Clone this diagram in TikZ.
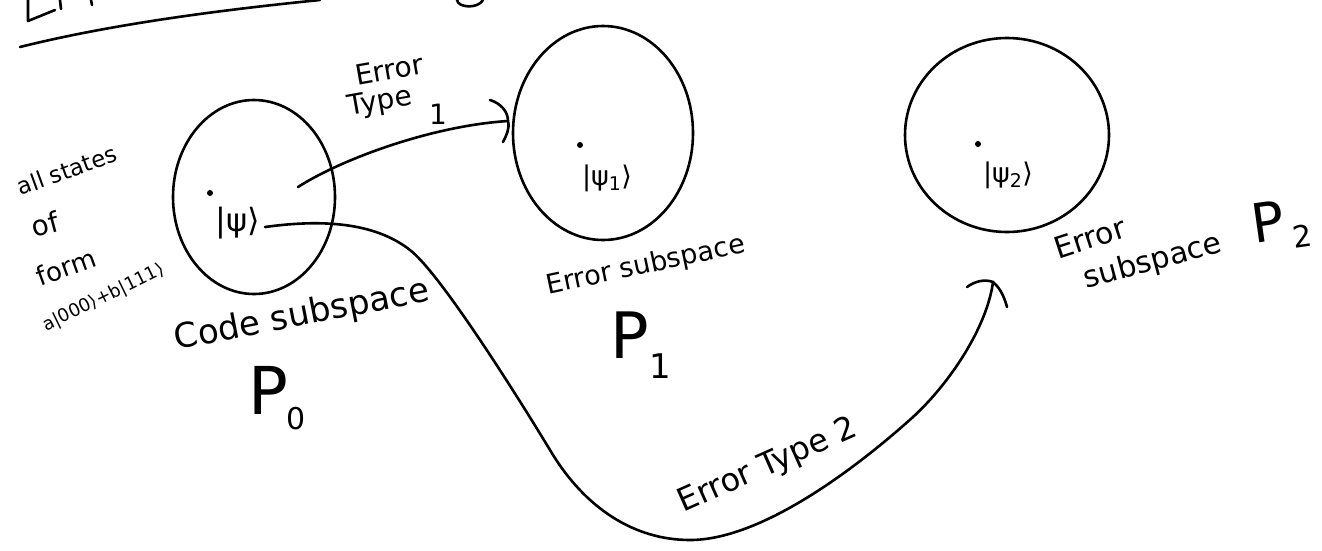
\documentclass[tikz,border=0pt]{standalone}
\usepackage{fontspec}
\setmainfont{DejaVu Sans}
\usetikzlibrary{shapes.geometric}
\begin{document}
\begin{tikzpicture}[x=1pt,y=-1pt,
  pen/.style={line width=2.6pt, line cap=round, line join=round},
  space/.style={ellipse, draw, line width=2.6pt, inner sep=0pt},
  pt/.style={circle, fill, inner sep=0pt, minimum size=6pt},
  lbl/.style={inner sep=0pt, font=\fontsize{#1}{#1}\selectfont},
  lbl/.default=30
]
\useasboundingbox[fill=white] (0,0) rectangle (1322,550);

% cut-off title fragments and underline
\draw[pen] (28,0) -- (28,21) -- (55,10);
\draw[pen] (60,0) -- (61,9);
\draw[pen] (91,0) -- (92,5);
\draw[pen] (457,0) .. controls (458,8) and (478,9) .. (483,0);
\draw[pen] (20,47) .. controls (100,27) and (200,12) .. (320,0);

% subspaces
\node[space, minimum width=162pt, minimum height=194pt] (c0) at (254,197) {};
\node[space, minimum width=180pt, minimum height=214pt] (c1) at (603,133) {};
\node[space, minimum width=204pt, minimum height=194pt] (c2) at (1007,135) {};

% states
\node[pt] (d0) at (210,193) {};
\node[pt] (d1) at (580,145) {};
\node[pt] (d2) at (978,144) {};
\node[lbl=32] (k0) at (238,223) {|ψ⟩};
\node[lbl=27] (k1) at (607,178) {|ψ\textsubscript{1}⟩};
\node[lbl=27] (k2) at (1008,175) {|ψ\textsubscript{2}⟩};

% left annotation
\node[lbl=23, rotate=20] (t1) at (67,170) {all states};
\node[lbl=28, rotate=15] (t2) at (45,224) {of};
\node[lbl=26, rotate=20] (t3) at (66,267) {form};
\node[lbl=18, rotate=26] (t4) at (104,298) {a|000⟩+b|111⟩};

% subspace labels
\node[lbl=34, rotate=11] (n0) at (302,316) {Code subspace};
\node[lbl=66] (p0) at (268,390) {P};
\node[lbl=30] (p0s) at (296,419) {0};
\node[lbl=27, rotate=12] (n1) at (646,266) {Error subspace};
\node[lbl=64] (p1) at (630,335) {P};
\node[lbl=34] (p1s) at (660,366) {1};
\node[lbl=30, rotate=18] (n2a) at (1090,238) {Error};
\node[lbl=30, rotate=15] (n2b) at (1153,262) {subspace};
\node[lbl=54, rotate=8] (p2) at (1268,222) {P};
\node[lbl=30, rotate=8] (p2s) at (1302,236) {2};

% error type 1
\node[lbl=28, rotate=10] (e1a) at (389,70) {Error};
\node[lbl=28, rotate=10] (e1b) at (380,103) {Type};
\node[lbl=28] (e1c) at (438,114) {1};
\coordinate (a1s) at (298,187);
\coordinate (a1e) at (508,121);
\draw[pen] (a1s) .. controls (340,160) and (430,126) .. (a1e);
\draw[pen] (490,100) .. controls (500,103) and (508,111) .. (a1e) .. controls (510,129) and (506,136) .. (503,142);

% error type 2
\node[lbl=32, rotate=24] (e2) at (768,466) {Error Type 2};
\coordinate (a2s) at (265,227);
\coordinate (a2e) at (993,282);
\draw[pen] (a2s) .. controls (330,218) and (378,225) .. (410,250)
  .. controls (442,275) and (524,407) .. (550,450)
  .. controls (585,509) and (635,540) .. (690,540)
  .. controls (760,540) and (853,471) .. (913,417)
  .. controls (950,383) and (987,327) .. (a2e);
\draw[pen] (967,287) .. controls (975,281) and (985,279) .. (a2e) .. controls (1000,288) and (1004,296) .. (1007,307);
\end{tikzpicture}
\end{document}
